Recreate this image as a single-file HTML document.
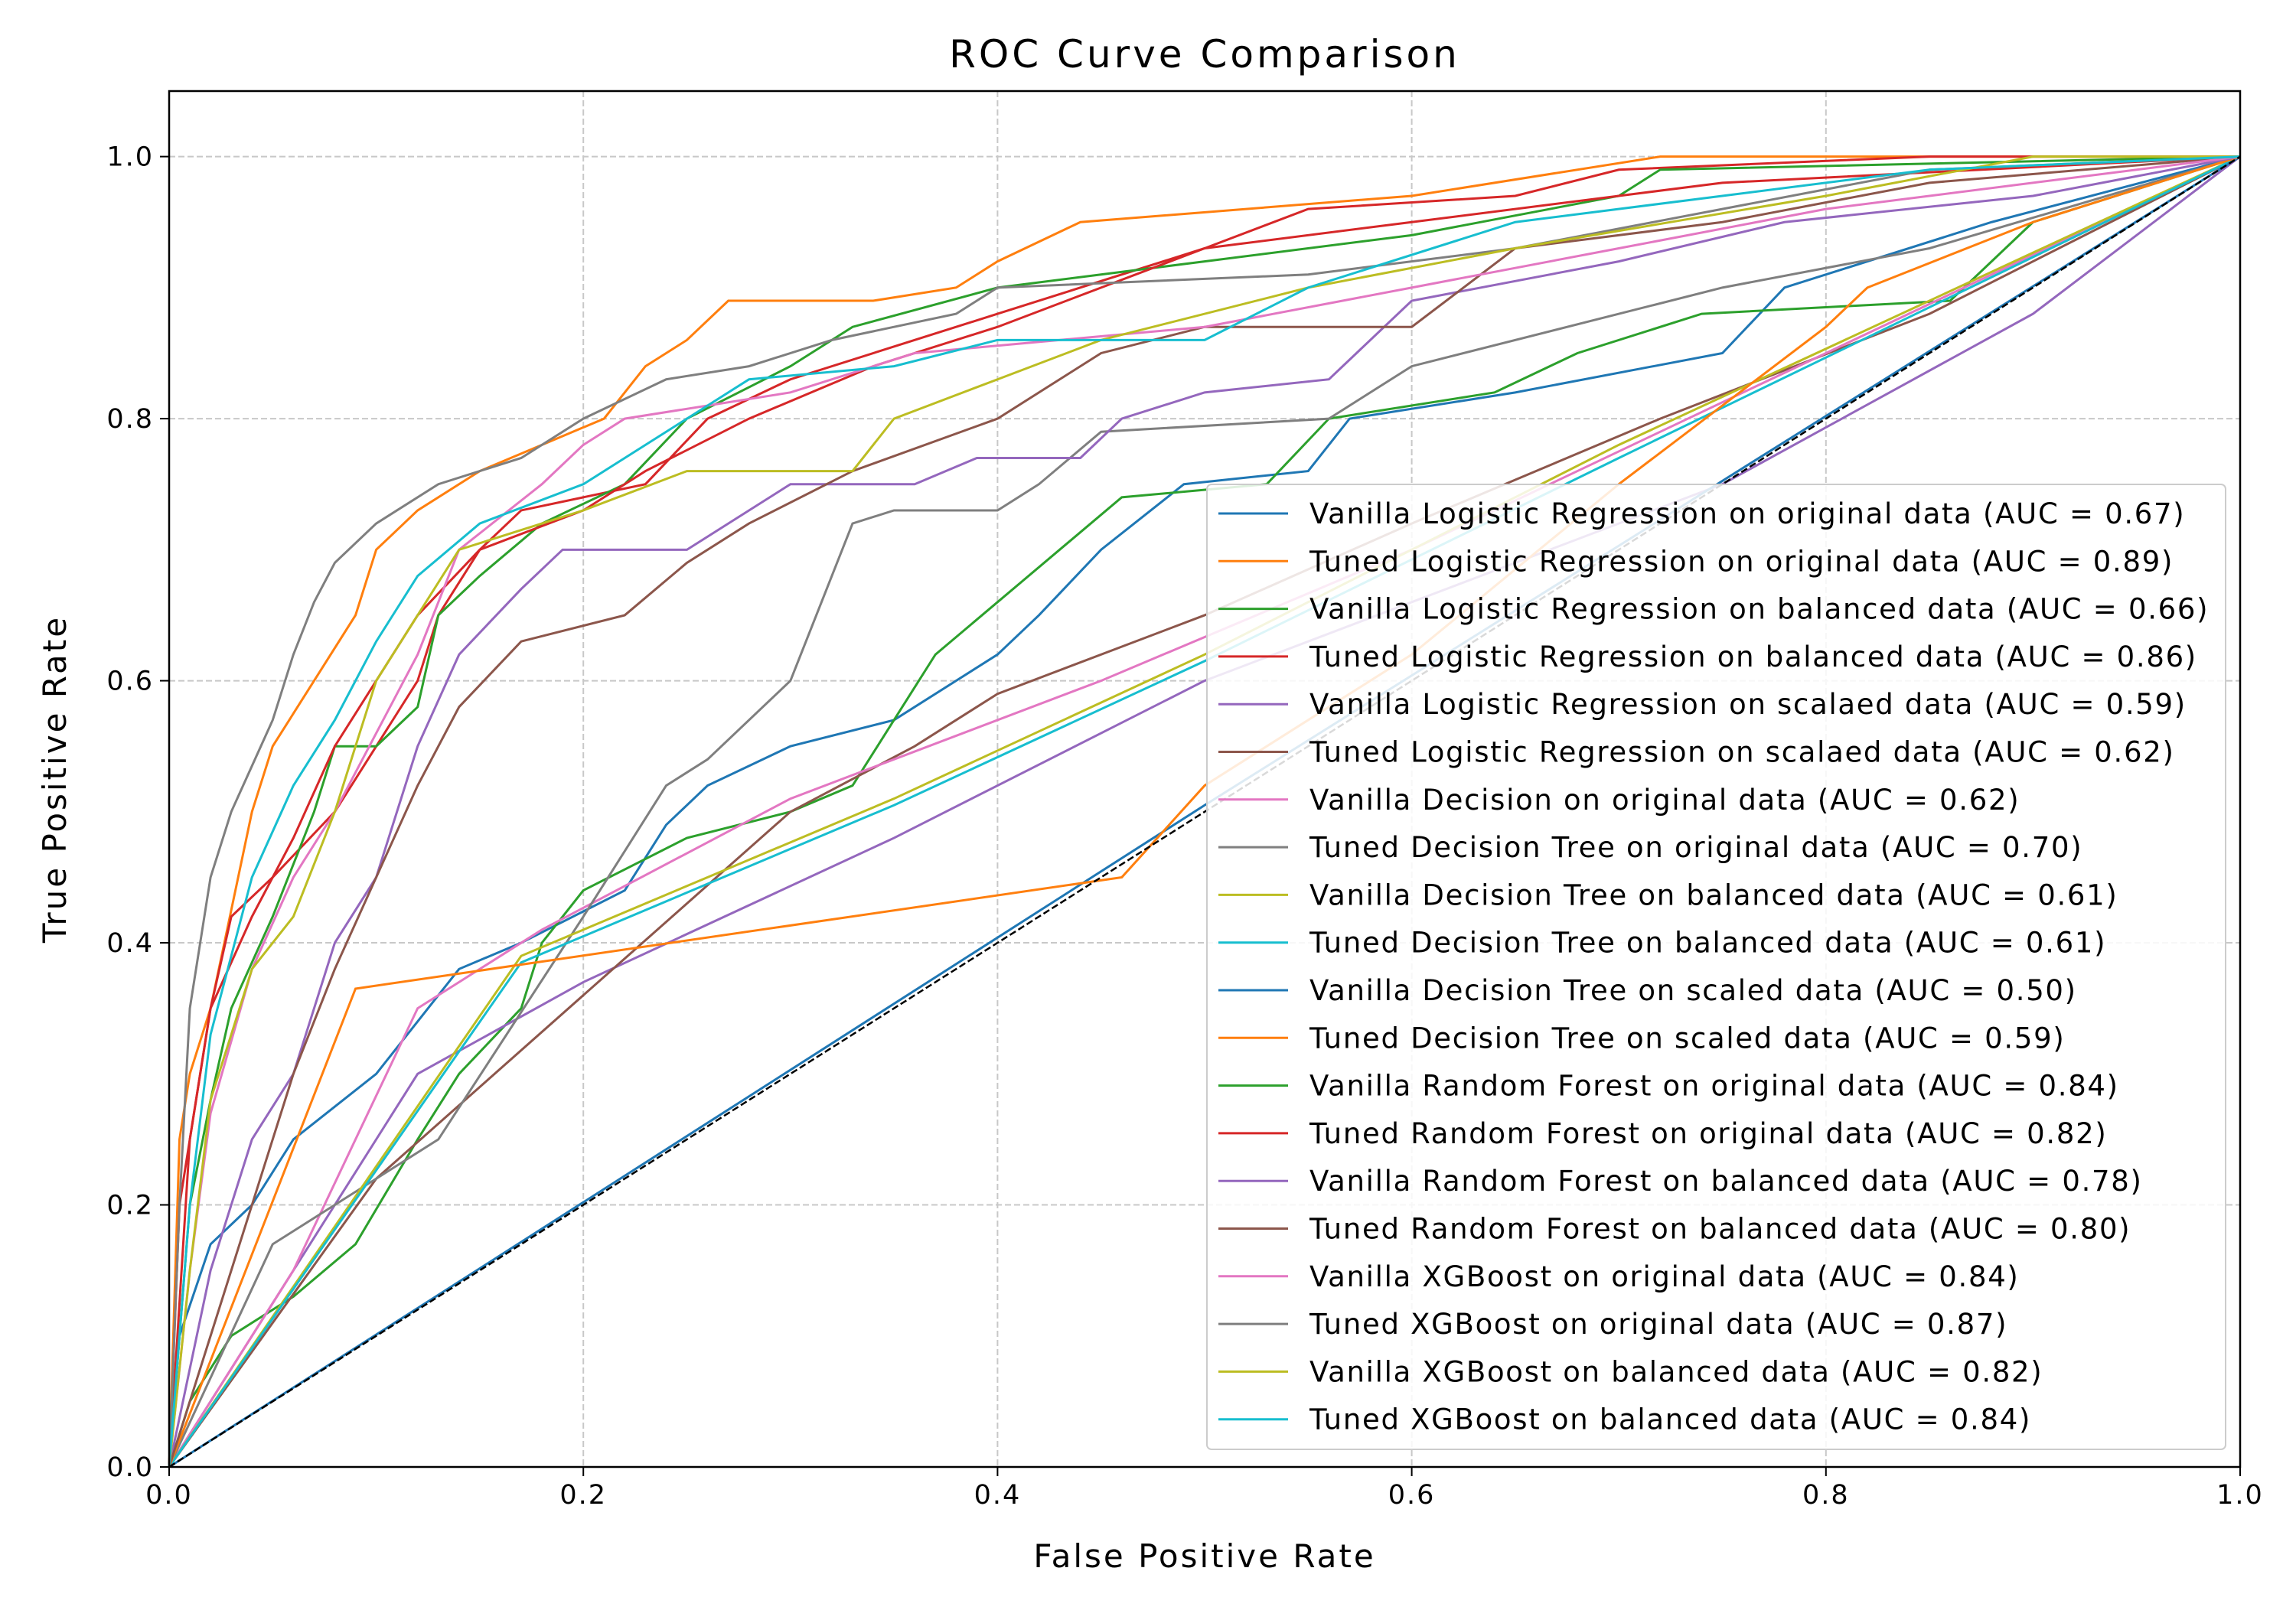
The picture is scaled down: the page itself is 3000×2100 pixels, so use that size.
<!DOCTYPE html>
<html><head><meta charset="utf-8"><style>
html,body{margin:0;padding:0;background:#fff;}
svg{display:block;font-family:"DejaVu Sans","Liberation Sans",sans-serif;}
</style></head><body>
<svg id="chart" width="3000" height="2100" viewBox="0 0 3000 2100" xmlns="http://www.w3.org/2000/svg">
<rect width="3000" height="2100" fill="#fff"/>
<text x="1574" y="88" font-size="50" letter-spacing="4" text-anchor="middle">ROC Curve Comparison</text>
<g id="grid"></g>
<g id="series"></g>
<rect x="221" y="119" width="2706" height="1798" fill="none" stroke="#000" stroke-width="2.5"/>
<g id="ticks"></g>
<text x="1574" y="2048" font-size="42" letter-spacing="3" text-anchor="middle">False Positive Rate</text>
<text transform="translate(86,1018) rotate(-90)" font-size="42" letter-spacing="3" text-anchor="middle">True Positive Rate</text>
<g id="legend"></g>
</svg>
<script>
const labels=["Vanilla Logistic Regression on original data (AUC = 0.67)","Tuned Logistic Regression on original data (AUC = 0.89)","Vanilla Logistic Regression on balanced data (AUC = 0.66)","Tuned Logistic Regression on balanced data (AUC = 0.86)","Vanilla Logistic Regression on scalaed data (AUC = 0.59)","Tuned Logistic Regression on scalaed data (AUC = 0.62)","Vanilla Decision on original data (AUC = 0.62)","Tuned Decision Tree on original data (AUC = 0.70)","Vanilla Decision Tree on balanced data (AUC = 0.61)","Tuned Decision Tree on balanced data (AUC = 0.61)","Vanilla Decision Tree on scaled data (AUC = 0.50)","Tuned Decision Tree on scaled data (AUC = 0.59)","Vanilla Random Forest on original data (AUC = 0.84)","Tuned Random Forest on original data (AUC = 0.82)","Vanilla Random Forest on balanced data (AUC = 0.78)","Tuned Random Forest on balanced data (AUC = 0.80)","Vanilla XGBoost on original data (AUC = 0.84)","Tuned XGBoost on original data (AUC = 0.87)","Vanilla XGBoost on balanced data (AUC = 0.82)","Tuned XGBoost on balanced data (AUC = 0.84)"];
const xTicks=[0,0.2,0.4,0.6,0.8,1.0];
const yTicks=[0,0.2,0.4,0.6,0.8,1.0];
const s1=[[0,0],[0.005,0.1],[0.02,0.17],[0.04,0.2],[0.06,0.25],[0.1,0.3],[0.14,0.38],[0.17,0.4],[0.22,0.44],[0.24,0.49],[0.26,0.52],[0.3,0.55],[0.35,0.57],[0.4,0.62],[0.42,0.65],[0.45,0.7],[0.49,0.75],[0.55,0.76],[0.57,0.8],[0.65,0.82],[0.75,0.85],[0.78,0.9],[0.88,0.95],[1,1]];
const s2=[[0,0],[0.005,0.25],[0.01,0.3],[0.02,0.35],[0.04,0.5],[0.05,0.55],[0.07,0.6],[0.09,0.65],[0.1,0.7],[0.12,0.73],[0.15,0.76],[0.18,0.78],[0.21,0.8],[0.23,0.84],[0.25,0.86],[0.27,0.89],[0.34,0.89],[0.38,0.9],[0.4,0.92],[0.44,0.95],[0.6,0.97],[0.72,1],[1,1]];
const s3=[[0,0],[0.01,0.05],[0.03,0.1],[0.06,0.13],[0.09,0.17],[0.12,0.25],[0.14,0.3],[0.17,0.35],[0.18,0.4],[0.2,0.44],[0.25,0.48],[0.3,0.5],[0.33,0.52],[0.35,0.57],[0.37,0.62],[0.4,0.66],[0.43,0.7],[0.46,0.74],[0.53,0.75],[0.56,0.8],[0.64,0.82],[0.68,0.85],[0.74,0.88],[0.86,0.89],[0.9,0.95],[1,1]];
const s4=[[0,0],[0.005,0.2],[0.02,0.35],[0.03,0.42],[0.05,0.45],[0.08,0.5],[0.1,0.55],[0.12,0.6],[0.13,0.65],[0.15,0.7],[0.17,0.73],[0.23,0.75],[0.26,0.8],[0.3,0.83],[0.36,0.86],[0.4,0.88],[0.44,0.9],[0.5,0.93],[0.55,0.96],[0.65,0.97],[0.7,0.99],[0.85,1],[1,1]];
const s5=[[0,0],[0.12,0.3],[0.2,0.37],[0.35,0.48],[0.5,0.6],[0.6,0.66],[0.75,0.75],[0.9,0.88],[1,1]];
const s6=[[0,0],[0.1,0.22],[0.2,0.36],[0.3,0.5],[0.36,0.55],[0.4,0.59],[0.5,0.65],[0.6,0.72],[0.72,0.8],[0.85,0.88],[1,1]];
const s7=[[0,0],[0.06,0.15],[0.12,0.35],[0.18,0.41],[0.3,0.51],[0.45,0.6],[0.6,0.7],[0.8,0.85],[1,1]];
const s8=[[0,0],[0.05,0.17],[0.13,0.25],[0.2,0.42],[0.24,0.52],[0.26,0.54],[0.3,0.6],[0.33,0.72],[0.35,0.73],[0.4,0.73],[0.42,0.75],[0.45,0.79],[0.56,0.8],[0.6,0.84],[0.75,0.9],[0.85,0.93],[1,1]];
const s9=[[0,0],[0.17,0.39],[0.35,0.51],[0.5,0.62],[0.7,0.78],[1,1]];
const s10=[[0,0],[0.17,0.385],[0.35,0.505],[0.5,0.615],[0.7,0.77],[1,1]];
const s11=[[0,0],[0.5,0.505],[1,1]];
const s12=[[0,0],[0.09,0.365],[0.46,0.45],[0.5,0.52],[0.6,0.62],[0.7,0.75],[0.8,0.87],[0.82,0.9],[0.9,0.95],[1,1]];
const s13=[[0,0],[0.01,0.2],[0.02,0.28],[0.03,0.35],[0.05,0.42],[0.07,0.5],[0.08,0.55],[0.1,0.55],[0.12,0.58],[0.13,0.65],[0.15,0.68],[0.18,0.72],[0.22,0.75],[0.25,0.8],[0.3,0.84],[0.33,0.87],[0.4,0.9],[0.5,0.92],[0.6,0.94],[0.7,0.97],[0.72,0.99],[1,1]];
const s14=[[0,0],[0.01,0.25],[0.02,0.35],[0.04,0.42],[0.06,0.48],[0.08,0.55],[0.1,0.6],[0.12,0.65],[0.15,0.7],[0.2,0.73],[0.23,0.76],[0.28,0.8],[0.34,0.84],[0.4,0.87],[0.45,0.9],[0.5,0.93],[0.6,0.95],[0.75,0.98],[1,1]];
const s15=[[0,0],[0.02,0.15],[0.04,0.25],[0.06,0.3],[0.08,0.4],[0.1,0.45],[0.12,0.55],[0.14,0.62],[0.17,0.67],[0.19,0.7],[0.25,0.7],[0.28,0.73],[0.3,0.75],[0.36,0.75],[0.39,0.77],[0.44,0.77],[0.46,0.8],[0.5,0.82],[0.56,0.83],[0.6,0.89],[0.7,0.92],[0.78,0.95],[0.9,0.97],[1,1]];
const s16=[[0,0],[0.02,0.1],[0.04,0.2],[0.06,0.3],[0.08,0.38],[0.1,0.45],[0.12,0.52],[0.14,0.58],[0.17,0.63],[0.22,0.65],[0.25,0.69],[0.28,0.72],[0.33,0.76],[0.4,0.8],[0.45,0.85],[0.5,0.87],[0.6,0.87],[0.65,0.93],[0.75,0.95],[0.85,0.98],[1,1]];
const s17=[[0,0],[0.01,0.15],[0.02,0.27],[0.04,0.38],[0.06,0.45],[0.08,0.5],[0.1,0.56],[0.12,0.62],[0.14,0.7],[0.18,0.75],[0.2,0.78],[0.22,0.8],[0.3,0.82],[0.36,0.85],[0.5,0.87],[0.6,0.9],[0.7,0.93],[0.8,0.96],[1,1]];
const s18=[[0,0],[0.005,0.2],[0.01,0.35],[0.02,0.45],[0.03,0.5],[0.05,0.57],[0.06,0.62],[0.07,0.66],[0.08,0.69],[0.1,0.72],[0.13,0.75],[0.17,0.77],[0.2,0.8],[0.24,0.83],[0.28,0.84],[0.32,0.86],[0.38,0.88],[0.4,0.9],[0.55,0.91],[0.65,0.93],[0.75,0.96],[0.85,0.99],[1,1]];
const s19=[[0,0],[0.01,0.15],[0.02,0.28],[0.04,0.38],[0.06,0.42],[0.08,0.5],[0.1,0.6],[0.12,0.65],[0.14,0.7],[0.2,0.73],[0.25,0.76],[0.33,0.76],[0.35,0.8],[0.4,0.83],[0.45,0.86],[0.55,0.9],[0.65,0.93],[0.8,0.97],[0.9,1],[1,1]];
const s20=[[0,0],[0.01,0.2],[0.02,0.33],[0.04,0.45],[0.06,0.52],[0.08,0.57],[0.1,0.63],[0.12,0.68],[0.15,0.72],[0.2,0.75],[0.25,0.8],[0.28,0.83],[0.35,0.84],[0.4,0.86],[0.5,0.86],[0.55,0.9],[0.65,0.95],[0.75,0.97],[0.85,0.99],[1,1]];
const seriesData=[s1,s2,s3,s4,s5,s6,s7,s8,s9,s10,s11,s12,s13,s14,s15,s16,s17,s18,s19,s20];
const colors=["#1f77b4","#ff7f0e","#2ca02c","#d62728","#9467bd","#8c564b","#e377c2","#7f7f7f","#bcbd22","#17becf"];
const NS="http://www.w3.org/2000/svg";
const L=221,R=2927,T=119,B=1917,YMAX=1.05;
const xs=v=>L+v*(R-L);
const ys=v=>B-v/YMAX*(B-T);
function mk(tag,attrs,parent){const e=document.createElementNS(NS,tag);for(const k in attrs)e.setAttribute(k,attrs[k]);parent.appendChild(e);return e;}
const grid=document.getElementById('grid'),ticks=document.getElementById('ticks'),ser=document.getElementById('series'),leg=document.getElementById('legend');
xTicks.forEach(t=>{
  const g=mk('line',{x1:xs(t),x2:xs(t),y1:T,y2:B,stroke:'#c8c8c8','stroke-width':2,'stroke-dasharray':'8,4'},grid);
  
  
  const tk=mk('line',{x1:xs(t),x2:xs(t),y1:B,y2:B+12,stroke:'#000','stroke-width':2},ticks);
  
  
  const tx=mk('text',{x:xs(t),y:B+48,'font-size':35,'letter-spacing':2,'text-anchor':'middle'},ticks);tx.textContent=t.toFixed(1);
  
  
});
yTicks.forEach(t=>{
  const g=mk('line',{x1:L,x2:R,y1:ys(t),y2:ys(t),stroke:'#c8c8c8','stroke-width':2,'stroke-dasharray':'8,4'},grid);
  
  
  const tk=mk('line',{x1:L-12,x2:L,y1:ys(t),y2:ys(t),stroke:'#000','stroke-width':2},ticks);
  
  
  const tx=mk('text',{x:L-20,y:ys(t)+12,'font-size':35,'letter-spacing':2,'text-anchor':'end'},ticks);tx.textContent=t.toFixed(1);
  
  
});
seriesData.forEach((d,i)=>{
  const p=mk('polyline',{points:d.map(q=>xs(q[0])+','+ys(q[1])).join(' '),fill:'none',stroke:colors[i%10],'stroke-width':3,'stroke-linejoin':'miter'},ser);
  
  
});
const diag=mk('line',{x1:xs(0),y1:ys(0),x2:xs(1),y2:ys(1),stroke:'#000','stroke-width':2.5,'stroke-dasharray':'9,4'},ser);


const box=mk('rect',{x:1577,y:633,width:1331,height:1261,rx:6,fill:'#fff','fill-opacity':0.85,stroke:'#ccc','stroke-width':2},leg);


labels.forEach((lab,i)=>{
  const y=671+i*62.3;
  const ln=mk('line',{x1:1592,x2:1683,y1:y,y2:y,stroke:colors[i%10],'stroke-width':3},leg);
  
  
  const tx=mk('text',{x:1711,y:y+13,'font-size':37,'letter-spacing':1.7},leg);tx.textContent=lab;
  
  
});
</script>
</body></html>
